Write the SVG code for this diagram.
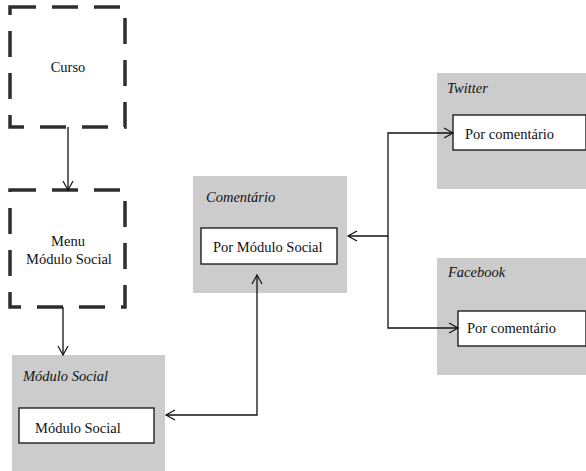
<svg xmlns="http://www.w3.org/2000/svg" width="586" height="471" viewBox="0 0 586 471">
<style>
.dash{fill:none;stroke:#2e2e2e;stroke-width:3.5;stroke-dasharray:26 16}
.grp{fill:#cccccc}
.inner{fill:#ffffff;stroke:#111;stroke-width:1.3}
text{font-family:'Liberation Serif','Times New Roman',Times,'DejaVu Serif',serif;font-size:14.5px;fill:#111}
.i{font-style:italic}
.c{text-anchor:middle}
.ln{fill:none;stroke:#111;stroke-width:1.3}
</style>
<defs>
<marker id="ah" markerUnits="userSpaceOnUse" markerWidth="12" markerHeight="12" refX="10" refY="6" orient="auto-start-reverse">
<path d="M1,1 L10,6 L1,11" fill="none" stroke="#111" stroke-width="1.2"/>
</marker>
</defs>
<rect x="0" y="0" width="586" height="471" fill="#ffffff"/>
<g id="curso">
<rect class="dash" x="10" y="7" width="115" height="120"/>
<text class="c" x="68" y="72" font-family="Liberation Serif, serif">Curso</text>
</g>
<g id="menu">
<rect class="dash" x="10" y="190" width="115" height="117"/>
<text class="c" x="68" y="246" font-family="Liberation Serif, serif">Menu</text>
<text class="c" x="69" y="264" font-family="Liberation Serif, serif">Módulo Social</text>
</g>
<g id="modulo-social">
<rect class="grp" x="12" y="355" width="153" height="116"/>
<text class="i" x="23" y="381" font-family="Liberation Serif, serif">Módulo Social</text>
<rect class="inner" x="19" y="408" width="135" height="35"/>
<text x="35" y="433" font-family="Liberation Serif, serif">Módulo Social</text>
</g>
<g id="comentario">
<rect class="grp" x="193" y="176" width="154" height="117"/>
<text class="i" x="206" y="202" font-family="Liberation Serif, serif">Comentário</text>
<rect class="inner" x="201" y="228" width="136" height="36"/>
<text x="213" y="252" font-family="Liberation Serif, serif">Por Módulo Social</text>
</g>
<g id="twitter">
<rect class="grp" x="437" y="73" width="149" height="116"/>
<text class="i" x="447" y="93" font-family="Liberation Serif, serif">Twitter</text>
<rect class="inner" x="453" y="115" width="133" height="35"/>
<text x="465" y="139" font-family="Liberation Serif, serif">Por comentário</text>
</g>
<g id="facebook">
<rect class="grp" x="437" y="258" width="149" height="117"/>
<text class="i" x="448" y="277" font-family="Liberation Serif, serif">Facebook</text>
<rect class="inner" x="458" y="311" width="128" height="35"/>
<text x="467" y="333" font-family="Liberation Serif, serif">Por comentário</text>
</g>
<g id="connectors">
<path class="ln" d="M68,127 V190" marker-end="url(#ah)"/>
<path class="ln" d="M63,307 V355" marker-end="url(#ah)"/>
<path class="ln" d="M166,415 H257 V275" marker-start="url(#ah)" marker-end="url(#ah)"/>
<path class="ln" d="M348,236 H388 V133 H453" marker-start="url(#ah)" marker-end="url(#ah)"/>
<path class="ln" d="M388,236 V328 H458" marker-end="url(#ah)"/>
</g>
</svg>
